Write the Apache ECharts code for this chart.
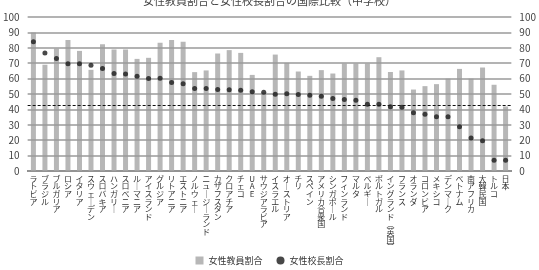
<!DOCTYPE html>
<html lang="ja">
<head>
    <meta charset="UTF-8">
    <title>女性教員割合と女性校長割合</title>
    <script src="https://cdn.jsdelivr.net/npm/echarts@6/dist/echarts.min.js"></script>
    <style>
        html, body { margin: 0; padding: 0; background: #fff; }
    </style>
</head>
<body>
<div id="main" style="width: 539px;height:270px;"></div>
<script>
    // 国名（左から）
    let countries = ['ラトビア', 'ブラジル', 'ブルガリア', 'ロシア', 'イタリア', 'スウェーデン', 'スロバキア', 'ハンガリー',
        'スロベニア', 'ルーマニア', 'アイスランド', 'グルジア', 'リトアニア', 'エストニア', 'ノルウェー', 'ニュージーランド',
        'カザフスタン', 'クロアチア', 'チェコ', 'UAE', 'サウジアラビア', 'イスラエル', 'オーストリア', 'チリ', 'スペイン',
        'アメリカ合衆国', 'シンガポール', 'フィンランド', 'マルタ', 'ベルギー', 'ポルトガル', 'イングランド(英国)', 'フランス',
        'オランダ', 'コロンビア', 'メキシコ', 'デンマーク', 'ベトナム', '南アフリカ', '大韓民国', 'トルコ', '日本'];
    // 女性教員割合 (%)
    let teachers = [90, 69, 79.5, 85, 78, 65.7, 82.3, 78.9, 78.9, 72.8, 73.5, 83.2, 85, 83.9, 64.2, 65.3,
        76.3, 78.5, 76.7, 62.4, 51, 75.6, 70.2, 64.6, 61.8, 65.5, 63.3, 69.8, 69.8, 69.8, 73.9, 64.3, 65.3,
        52.9, 55.1, 56.4, 60, 66.3, 60, 67.2, 56, 41.9];
    // 女性校長割合 (%)
    let principals = [83.9, 76.7, 73, 69.6, 69.6, 68.7, 66.5, 63.3, 63, 61.5, 60, 60.2, 57.5, 56.6, 53.6, 53.6,
        52.9, 52.7, 52.5, 51.4, 51.2, 49.9, 50.1, 49.7, 49.2, 48.6, 47.1, 46.4, 46, 43.4, 43.4, 41.8, 41.4,
        37.8, 36.9, 35.2, 35.2, 28.7, 21.5, 19.6, 7, 7];
    let avgLine = 42.7;
    let yTicks = [0, 10, 20, 30, 40, 50, 60, 70, 80, 90, 100];

    // 縦書き用に1文字ずつ改行
    function vertical(name) {
        return name.replace(/ー/g, '｜').replace(/\(/g, '︵').replace(/\)/g, '︶').split('').join('\n');
    }

    var myChart = echarts.init(document.getElementById('main'));
    let font = '"Noto Sans CJK JP", "Noto Sans", sans-serif';

    let yAxisBase = {
        type: 'value',
        min: yTicks[0],
        max: yTicks[yTicks.length - 1],
        interval: 10,
        axisLine: {show: false},
        axisTick: {show: false},
        axisLabel: {color: '#444', fontSize: 10, fontFamily: font, margin: 8}
    };

    option = {
        backgroundColor: '#fff',
        textStyle: {fontFamily: font},
        title: {
            text: '女性教員割合と女性校長割合の国際比較（中学校）',
            left: 'center',
            top: -10,
            textStyle: {fontSize: 11, fontWeight: 'normal', color: '#444', fontFamily: font}
        },
        legend: {
            bottom: 0,
            left: 'center',
            itemWidth: 8,
            itemHeight: 8,
            itemGap: 14,
            textStyle: {fontSize: 9, color: '#333', fontFamily: font},
            data: [
                {name: '女性教員割合', icon: 'rect'},
                {name: '女性校長割合', icon: 'circle'}
            ]
        },
        grid: {left: 22, right: 24, top: 17, bottom: 99},
        xAxis: {
            type: 'category',
            data: countries,
            axisLine: {lineStyle: {color: '#555', width: 1.5}},
            axisTick: {show: false},
            axisLabel: {
                interval: 0,
                color: '#333',
                fontSize: 8,
                lineHeight: 7.6,
                margin: 4,
                verticalAlign: 'top',
                fontFamily: font,
                formatter: vertical
            }
        },
        yAxis: [
            Object.assign({}, yAxisBase, {
                position: 'left',
                z: 3,
                splitLine: {lineStyle: {color: '#9a9a9a', width: 1.5}}
            }),
            Object.assign({}, yAxisBase, {
                position: 'right',
                splitLine: {show: false}
            })
        ],
        series: [
            {
                name: '女性教員割合',
                type: 'bar',
                data: teachers,
                barWidth: 5,
                itemStyle: {color: '#b7b7b7'},
                z: 1
            },
            {
                name: '女性校長割合',
                type: 'scatter',
                data: principals,
                symbolSize: 5,
                itemStyle: {color: '#1a1a1a'},
                z: 5,
                markLine: {
                    silent: true,
                    symbol: 'none',
                    label: {show: false},
                    lineStyle: {color: '#111', type: [3, 2], width: 1},
                    data: [{yAxis: avgLine}]
                }
            }
        ]
    };

    myChart.setOption(option);
</script>
</body>
</html>
